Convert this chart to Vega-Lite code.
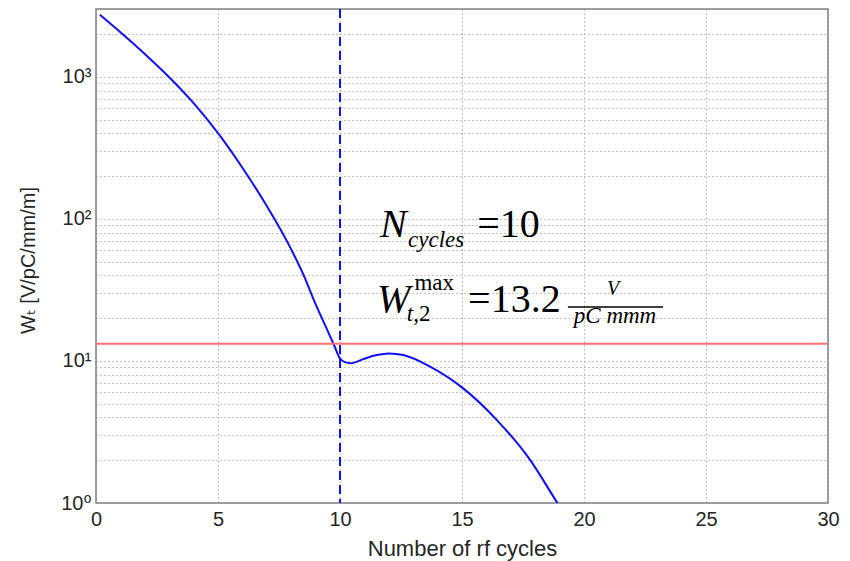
{
  "$schema": "https://vega.github.io/schema/vega-lite/v6.json",
  "width": 732,
  "height": 494,
  "autosize": "none",
  "padding": {"left": 96, "top": 9, "right": 22, "bottom": 58},
  "background": "white",
  "config": {
    "view": {"stroke": "#808080", "strokeWidth": 1.5},
    "axis": {
      "labelFont": "Liberation Sans, DejaVu Sans",
      "titleFont": "Liberation Sans, DejaVu Sans",
      "labelColor": "#262626",
      "titleColor": "#262626",
      "titleFontWeight": "normal",
      "gridColor": "#8a8a8a",
      "gridDash": [1, 3],
      "gridWidth": 1,
      "gridOpacity": 1,
      "domain": false,
      "ticks": false,
      "tickSize": 0
    }
  },
  "layer": [
    {
      "data": {
        "values": [
          {"cycles": 0.16, "wt": 2735},
          {"cycles": 1.0, "wt": 2061},
          {"cycles": 2.0, "wt": 1449},
          {"cycles": 3.0, "wt": 993},
          {"cycles": 4.0, "wt": 652},
          {"cycles": 5.0, "wt": 401},
          {"cycles": 6.0, "wt": 229},
          {"cycles": 7.0, "wt": 123},
          {"cycles": 8.0, "wt": 61},
          {"cycles": 8.5, "wt": 40.5},
          {"cycles": 9.0, "wt": 25.1},
          {"cycles": 9.5, "wt": 16.2},
          {"cycles": 9.75, "wt": 13.0},
          {"cycles": 10.0, "wt": 10.4},
          {"cycles": 10.2, "wt": 9.8},
          {"cycles": 10.45, "wt": 9.64},
          {"cycles": 10.95, "wt": 10.3},
          {"cycles": 11.5, "wt": 11.0},
          {"cycles": 12.0, "wt": 11.3},
          {"cycles": 12.6, "wt": 11.0},
          {"cycles": 13.69, "wt": 9.12},
          {"cycles": 15.05, "wt": 6.41},
          {"cycles": 16.42, "wt": 3.85},
          {"cycles": 17.79, "wt": 2.01},
          {"cycles": 18.88, "wt": 1.02},
          {"cycles": 19.2, "wt": 0.84}
        ]
      },
      "mark": {"type": "line", "color": "#1010ff", "strokeWidth": 2, "interpolate": "monotone", "clip": true},
      "encoding": {
        "x": {
          "field": "cycles", "type": "quantitative",
          "scale": {"domain": [0, 30], "nice": false, "zero": false},
          "axis": {
            "title": "Number of rf cycles",
            "values": [0, 5, 10, 15, 20, 25, 30],
            "grid": true,
            "labelFontSize": 20,
            "titleFontSize": 22,
            "labelPadding": 6,
            "labelFlush": false,
            "titleBaseline": "alphabetic",
            "titleY": 52
          }
        },
        "y": {
          "field": "wt", "type": "quantitative",
          "scale": {"type": "log", "domain": [1, 3000], "nice": false},
          "axis": {
            "title": "Wₜ [V/pC/mm/m]",
            "values": [1, 2, 3, 4, 5, 6, 7, 8, 9, 10, 20, 30, 40, 50, 60, 70, 80, 90, 100, 200, 300, 400, 500, 600, 700, 800, 900, 1000, 2000, 3000],
            "labelExpr": "datum.value == 1 ? '10⁰' : datum.value == 10 ? '10¹' : datum.value == 100 ? '10²' : datum.value == 1000 ? '10³' : ''",
            "grid": true,
            "labelFontSize": 20,
            "titleFontSize": 20,
            "labelPadding": 5,
            "labelOverlap": false,
            "labelBound": false,
            "labelFlush": false,
            "titleX": -68,
            "titleY": 251,
            "titleBaseline": "middle",
            "titleAngle": 270
          }
        }
      }
    },
    {
      "data": {"values": [{}]},
      "mark": {"type": "rule", "color": "#ff7070", "strokeWidth": 2},
      "encoding": {"y": {"datum": 13.2, "type": "quantitative"}}
    },
    {
      "data": {"values": [{}]},
      "mark": {"type": "rule", "color": "#1010ff", "strokeWidth": 2, "strokeDash": [9, 5]},
      "encoding": {"x": {"datum": 10, "type": "quantitative"}}
    },
    {
      "data": {"values": [{}]},
      "mark": {"type": "text", "text": "N", "font": "Liberation Serif", "fontSize": 40, "fontStyle": "italic", "align": "left", "baseline": "alphabetic"},
      "encoding": {"x": {"datum": 11.64, "type": "quantitative"}, "y": {"datum": 74.6, "type": "quantitative"}}
    },
    {
      "data": {"values": [{}]},
      "mark": {"type": "text", "text": "cycles", "font": "Liberation Serif", "fontSize": 23, "fontStyle": "italic", "align": "left", "baseline": "alphabetic"},
      "encoding": {"x": {"datum": 12.79, "type": "quantitative"}, "y": {"datum": 63.5, "type": "quantitative"}}
    },
    {
      "data": {"values": [{}]},
      "mark": {"type": "text", "text": "=10", "font": "Liberation Serif", "fontSize": 40, "align": "left", "baseline": "alphabetic"},
      "encoding": {"x": {"datum": 15.62, "type": "quantitative"}, "y": {"datum": 74.6, "type": "quantitative"}}
    },
    {
      "data": {"values": [{}]},
      "mark": {"type": "text", "text": "W", "font": "Liberation Serif", "fontSize": 40, "fontStyle": "italic", "align": "left", "baseline": "alphabetic"},
      "encoding": {"x": {"datum": 11.52, "type": "quantitative"}, "y": {"datum": 22.1, "type": "quantitative"}}
    },
    {
      "data": {"values": [{}]},
      "mark": {"type": "text", "text": "max", "font": "Liberation Serif", "fontSize": 23, "align": "left", "baseline": "alphabetic"},
      "encoding": {"x": {"datum": 13.05, "type": "quantitative"}, "y": {"datum": 31.5, "type": "quantitative"}}
    },
    {
      "data": {"values": [{}]},
      "mark": {"type": "text", "text": "t", "font": "Liberation Serif", "fontSize": 23, "fontStyle": "italic", "align": "left", "baseline": "alphabetic"},
      "encoding": {"x": {"datum": 12.74, "type": "quantitative"}, "y": {"datum": 19.0, "type": "quantitative"}}
    },
    {
      "data": {"values": [{}]},
      "mark": {"type": "text", "text": ",2", "font": "Liberation Serif", "fontSize": 23, "align": "left", "baseline": "alphabetic"},
      "encoding": {"x": {"datum": 13.0, "type": "quantitative"}, "y": {"datum": 19.0, "type": "quantitative"}}
    },
    {
      "data": {"values": [{}]},
      "mark": {"type": "text", "text": "=13.2", "font": "Liberation Serif", "fontSize": 40, "align": "left", "baseline": "alphabetic"},
      "encoding": {"x": {"datum": 15.25, "type": "quantitative"}, "y": {"datum": 22.1, "type": "quantitative"}}
    },
    {
      "data": {"values": [{}]},
      "mark": {"type": "text", "text": "V", "font": "Liberation Serif", "fontSize": 20, "fontStyle": "italic", "align": "center", "baseline": "alphabetic"},
      "encoding": {"x": {"datum": 21.19, "type": "quantitative"}, "y": {"datum": 29.2, "type": "quantitative"}}
    },
    {
      "data": {"values": [{}]},
      "mark": {"type": "text", "text": "pC mmm", "font": "Liberation Serif", "fontSize": 23, "fontStyle": "italic", "align": "center", "baseline": "alphabetic"},
      "encoding": {"x": {"datum": 21.27, "type": "quantitative"}, "y": {"datum": 18.5, "type": "quantitative"}}
    },
    {
      "data": {"values": [{}]},
      "mark": {"type": "rule", "color": "black", "strokeWidth": 1.5},
      "encoding": {
        "x": {"datum": 19.34, "type": "quantitative"},
        "x2": {"datum": 23.24},
        "y": {"datum": 24.0, "type": "quantitative"}
      }
    }
  ]
}
